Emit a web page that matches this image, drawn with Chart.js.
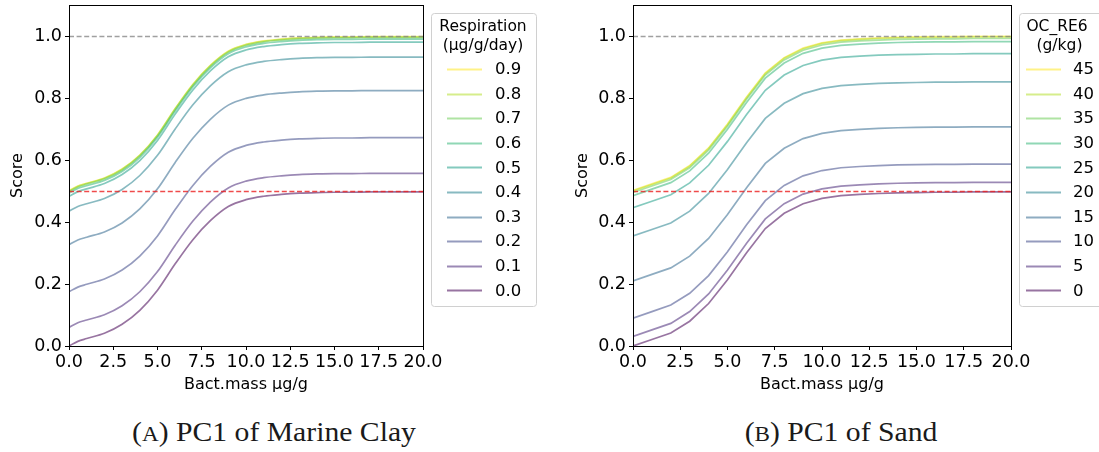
<!DOCTYPE html>
<html>
<head>
<meta charset="utf-8">
<script src="https://cdn.jsdelivr.net/npm/chart.js@4/dist/chart.umd.min.js"></script>
<style>
  html, body { margin: 0; padding: 0; background: #fff; }
  #wrap { position: relative; width: 1099px; height: 452px; overflow: hidden; background: #fff; }
  canvas { position: absolute; top: 0; }
  #clay { left: 0; }
  #sand { left: 560px; }
  .cap {
    position: absolute; top: 416px; white-space: nowrap;
    font-family: "Liberation Serif", "DejaVu Serif", serif; font-size: 28px; color: #1a1a1a;
    transform: translateX(-50%) scaleX(1.06);
  }
  .sc { font-size: 0.78em; }
</style>
</head>
<body>
<div id="wrap">
  <canvas id="clay" width="545" height="400"></canvas>
  <canvas id="sand" width="539" height="400"></canvas>
  <div class="cap" style="left:274px">(<span class="sc">A</span>) PC1 of Marine Clay</div>
  <div class="cap" style="left:841px">(<span class="sc">B</span>) PC1 of Sand</div>
</div>
<script>
// ---- Marine clay: score vs bacterial mass for each respiration level ----
const bactClay = [0, 0.5, 1, 2, 3, 4, 5, 6, 7, 8, 9, 10, 11, 12, 13, 14, 15, 16, 17, 18, 19, 20];
const respirationLabels = ['0.0', '0.1', '0.2', '0.3', '0.4', '0.5', '0.6', '0.7', '0.8', '0.9'];
const clayResp00 = [0.000, 0.015, 0.024, 0.041, 0.070, 0.115, 0.180, 0.265, 0.343, 0.405, 0.450, 0.472, 0.483, 0.489, 0.493, 0.495, 0.496, 0.496, 0.497, 0.497, 0.497, 0.497];
const clayResp01 = [0.060, 0.075, 0.084, 0.101, 0.130, 0.175, 0.240, 0.325, 0.403, 0.465, 0.510, 0.532, 0.543, 0.549, 0.553, 0.555, 0.556, 0.556, 0.557, 0.557, 0.557, 0.557];
const clayResp02 = [0.175, 0.190, 0.199, 0.216, 0.245, 0.290, 0.355, 0.440, 0.518, 0.580, 0.625, 0.647, 0.658, 0.664, 0.668, 0.670, 0.671, 0.671, 0.672, 0.672, 0.672, 0.672];
const clayResp03 = [0.327, 0.342, 0.351, 0.368, 0.397, 0.442, 0.507, 0.592, 0.670, 0.732, 0.777, 0.799, 0.810, 0.816, 0.820, 0.822, 0.823, 0.823, 0.824, 0.824, 0.824, 0.824];
const clayResp04 = [0.435, 0.450, 0.459, 0.476, 0.505, 0.550, 0.615, 0.700, 0.778, 0.840, 0.885, 0.907, 0.918, 0.924, 0.928, 0.930, 0.931, 0.931, 0.932, 0.932, 0.932, 0.932];
const clayResp05 = [0.483, 0.498, 0.507, 0.524, 0.553, 0.598, 0.663, 0.748, 0.826, 0.888, 0.933, 0.955, 0.966, 0.972, 0.976, 0.978, 0.979, 0.979, 0.980, 0.980, 0.980, 0.980];
const clayResp06 = [0.493, 0.508, 0.517, 0.534, 0.563, 0.608, 0.673, 0.758, 0.836, 0.898, 0.943, 0.965, 0.976, 0.982, 0.986, 0.988, 0.989, 0.989, 0.990, 0.990, 0.990, 0.990];
const clayResp07 = [0.498, 0.513, 0.522, 0.539, 0.568, 0.613, 0.678, 0.763, 0.841, 0.903, 0.948, 0.970, 0.981, 0.987, 0.991, 0.993, 0.994, 0.994, 0.995, 0.995, 0.995, 0.995];
const clayResp08 = [0.500, 0.515, 0.524, 0.541, 0.570, 0.615, 0.680, 0.765, 0.843, 0.905, 0.950, 0.972, 0.983, 0.989, 0.993, 0.995, 0.996, 0.996, 0.997, 0.997, 0.997, 0.997];
const clayResp09 = [0.501, 0.516, 0.525, 0.542, 0.571, 0.616, 0.681, 0.766, 0.844, 0.906, 0.951, 0.973, 0.984, 0.990, 0.994, 0.996, 0.997, 0.997, 0.998, 0.998, 0.998, 0.998];

// ---- Sand: score vs bacterial mass for each organic carbon level ----
const bactSand = [0, 1, 2, 3, 4, 5, 6, 7, 8, 9, 10, 11, 12, 13, 14, 15, 16, 17, 18, 19, 20];
const ocLabels = ['0', '5', '10', '15', '20', '25', '30', '35', '40', '45'];
const sandOc00 = [0.000, 0.021, 0.042, 0.080, 0.137, 0.214, 0.300, 0.379, 0.428, 0.459, 0.476, 0.485, 0.489, 0.492, 0.494, 0.495, 0.496, 0.496, 0.497, 0.497, 0.497];
const sandOc05 = [0.031, 0.052, 0.073, 0.111, 0.168, 0.245, 0.331, 0.410, 0.459, 0.490, 0.507, 0.516, 0.520, 0.523, 0.525, 0.526, 0.527, 0.527, 0.528, 0.528, 0.528];
const sandOc10 = [0.090, 0.111, 0.132, 0.170, 0.227, 0.304, 0.390, 0.469, 0.518, 0.549, 0.566, 0.575, 0.579, 0.582, 0.584, 0.585, 0.586, 0.586, 0.587, 0.587, 0.587];
const sandOc15 = [0.210, 0.231, 0.252, 0.290, 0.347, 0.424, 0.510, 0.589, 0.638, 0.669, 0.686, 0.695, 0.699, 0.702, 0.704, 0.705, 0.706, 0.706, 0.707, 0.707, 0.707];
const sandOc20 = [0.355, 0.376, 0.397, 0.435, 0.492, 0.569, 0.655, 0.734, 0.783, 0.814, 0.831, 0.840, 0.844, 0.847, 0.849, 0.850, 0.851, 0.851, 0.852, 0.852, 0.852];
const sandOc25 = [0.446, 0.467, 0.488, 0.526, 0.583, 0.660, 0.746, 0.825, 0.874, 0.905, 0.922, 0.931, 0.935, 0.938, 0.940, 0.941, 0.942, 0.942, 0.943, 0.943, 0.943];
const sandOc30 = [0.485, 0.506, 0.527, 0.565, 0.622, 0.699, 0.785, 0.864, 0.913, 0.944, 0.961, 0.970, 0.974, 0.977, 0.979, 0.980, 0.981, 0.981, 0.982, 0.982, 0.982];
const sandOc35 = [0.495, 0.516, 0.537, 0.575, 0.632, 0.709, 0.795, 0.874, 0.923, 0.954, 0.971, 0.980, 0.984, 0.987, 0.989, 0.990, 0.991, 0.991, 0.992, 0.992, 0.992];
const sandOc40 = [0.500, 0.521, 0.542, 0.580, 0.637, 0.714, 0.800, 0.879, 0.928, 0.959, 0.976, 0.985, 0.989, 0.992, 0.994, 0.995, 0.996, 0.996, 0.997, 0.997, 0.997];
const sandOc45 = [0.502, 0.523, 0.544, 0.582, 0.639, 0.716, 0.802, 0.881, 0.930, 0.961, 0.978, 0.987, 0.991, 0.994, 0.996, 0.997, 0.998, 0.998, 0.999, 0.999, 0.999];

// Reference score levels drawn as dashed guides
const refLevels = [1.0, 0.5];
const xTickValues = [0, 2.5, 5, 7.5, 10, 12.5, 15, 17.5, 20];
const yTickValues = [0, 0.2, 0.4, 0.6, 0.8, 1.0];

const clayCurves = [clayResp00, clayResp01, clayResp02, clayResp03, clayResp04, clayResp05, clayResp06, clayResp07, clayResp08, clayResp09];
const sandCurves = [sandOc00, sandOc05, sandOc10, sandOc15, sandOc20, sandOc25, sandOc30, sandOc35, sandOc40, sandOc45];

// viridis, sampled at ten even steps
const viridis10 = ['#440154', '#482878', '#3e4989', '#31688e', '#26828e', '#1f9e89', '#35b779', '#6ece58', '#b5de2b', '#fde725'];
const refColors = ['rgba(128,128,128,0.75)', 'rgba(235,30,30,0.8)'];
const FONT = '"DejaVu Sans", "Liberation Sans", sans-serif';

function withAlpha(hex, a) {
  const n = parseInt(hex.slice(1), 16);
  return `rgba(${(n >> 16) & 255},${(n >> 8) & 255},${n & 255},${a})`;
}

// Frame, dashed guides and the legend are drawn on top of the plot area
const decorations = {
  id: 'decorations',
  afterDatasetsDraw(chart, args, opts) {
    const { ctx, chartArea: ca, scales } = chart;
    ctx.save();
    ctx.beginPath();
    ctx.rect(ca.left, ca.top, ca.right - ca.left, ca.bottom - ca.top);
    ctx.clip();
    refLevels.forEach((v, k) => {
      const y = Math.round(scales.y.getPixelForValue(v)) + 0.5;
      ctx.strokeStyle = refColors[k];
      ctx.lineWidth = 1.3;
      ctx.setLineDash([5, 2.6]);
      ctx.beginPath();
      ctx.moveTo(ca.left, y);
      ctx.lineTo(ca.right, y);
      ctx.stroke();
    });
    ctx.restore();
  },
  afterDraw(chart, args, opts) {
    const { ctx, chartArea: ca } = chart;
    ctx.save();
    ctx.strokeStyle = '#000';
    ctx.lineWidth = 1;
    ctx.setLineDash([]);
    ctx.strokeRect(Math.round(ca.left) + 0.5, Math.round(ca.top) + 0.5,
      Math.round(ca.right - ca.left), Math.round(ca.bottom - ca.top));

    // legend box
    const L = opts.legend;
    ctx.fillStyle = 'rgba(255,255,255,0.85)';
    ctx.strokeStyle = '#d0d0d0';
    ctx.beginPath();
    ctx.roundRect(L.x + 0.5, L.y + 0.5, L.w, L.h, 3);
    ctx.fill();
    ctx.stroke();
    ctx.fillStyle = '#000';
    ctx.textAlign = 'center';
    ctx.textBaseline = 'middle';
    ctx.font = `15.5px ${FONT}`;
    L.title.forEach((t, k) => ctx.fillText(t, L.titleX, L.titleY + k * 18.5));
    ctx.font = `16.5px ${FONT}`;
    ctx.textAlign = 'left';
    const ds = chart.data.datasets;
    const n = ds.length;
    for (let r = 0; r < n; r++) {
      const d = ds[n - 1 - r];
      const y = L.firstY + r * L.step;
      ctx.strokeStyle = d.borderColor;
      ctx.lineWidth = 2;
      ctx.beginPath();
      ctx.moveTo(L.lineX0, Math.round(y) + 0.5);
      ctx.lineTo(L.lineX1, Math.round(y) + 0.5);
      ctx.stroke();
      ctx.fillStyle = '#000';
      ctx.fillText(d.label, L.textX, y + 1);
    }
    ctx.restore();
  }
};

function noEdgePadding(s) {
  s.paddingTop = 0; s.paddingBottom = 0; s.paddingLeft = 0; s.paddingRight = 0;
}

function buildChart(canvasId, xs, curves, labels, cfg) {
  const datasets = curves.map((ys, i) => ({
    label: labels[i],
    data: ys.map((y, j) => ({ x: xs[j], y })),
    borderColor: withAlpha(viridis10[i], 0.55),
    borderWidth: 1.7,
    pointRadius: 0,
    fill: false,
    tension: 0,
    cubicInterpolationMode: cfg.smooth ? 'monotone' : 'default'
  }));
  const tickFont = { family: FONT, size: 17.5 };
  const titleFont = { family: FONT, size: 16 };
  return new Chart(document.getElementById(canvasId), {
    type: 'line',
    data: { datasets },
    plugins: [decorations],
    options: {
      responsive: false,
      animation: false,
      devicePixelRatio: 1,
      layout: { padding: { left: 0, top: 5, right: cfg.padRight, bottom: 0 } },
      plugins: {
        legend: { display: false },
        tooltip: { enabled: false },
        decorations: { legend: cfg.legend }
      },
      scales: {
        x: {
          type: 'linear', min: 0, max: 20,
          afterBuildTicks: s => { s.ticks = xTickValues.map(v => ({ value: v })); },
          afterFit: s => { s.height = 54; noEdgePadding(s); },
          ticks: { color: '#000', font: tickFont, padding: 2, maxRotation: 0, autoSkip: false,
                   callback: v => Number(v).toFixed(1) },
          grid: { drawOnChartArea: false, drawTicks: true, tickLength: 4, color: '#000', lineWidth: 1 },
          border: { display: false },
          title: { display: true, text: 'Bact.mass µg/g', color: '#000', font: titleFont,
                   padding: { top: 0, bottom: 6 } }
        },
        y: {
          type: 'linear', min: 0, max: 1.1,
          afterBuildTicks: s => { s.ticks = yTickValues.map(v => ({ value: v })); },
          afterFit: s => { s.width = cfg.yWidth; noEdgePadding(s); },
          ticks: { color: '#000', font: tickFont, padding: 3,
                   callback: v => Number(v).toFixed(1) },
          grid: { drawOnChartArea: false, drawTicks: true, tickLength: 4, color: '#000', lineWidth: 1 },
          border: { display: false },
          title: { display: true, text: 'Score', color: '#000', font: titleFont,
                   padding: { top: cfg.yTitlePad, bottom: 0 } }
        }
      }
    }
  });
}

buildChart('clay', bactClay, clayCurves, respirationLabels, {
  smooth: true, padRight: 122, yWidth: 69, yTitlePad: 8,
  legend: { x: 431, y: 13, w: 105, h: 293, title: ['Respiration', '(µg/g/day)'],
            titleX: 483, titleY: 27, firstY: 69, step: 24.6, lineX0: 447, lineX1: 482, textX: 495 }
});
buildChart('sand', bactSand, sandCurves, ocLabels, {
  smooth: false, padRight: 88, yWidth: 73, yTitlePad: 13,
  legend: { x: 459, y: 13, w: 100, h: 293, title: ['OC_RE6', ' (g/kg)'],
            titleX: 497, titleY: 27, firstY: 69, step: 24.6, lineX0: 466, lineX1: 501, textX: 513 }
});
</script>
</body>
</html>
